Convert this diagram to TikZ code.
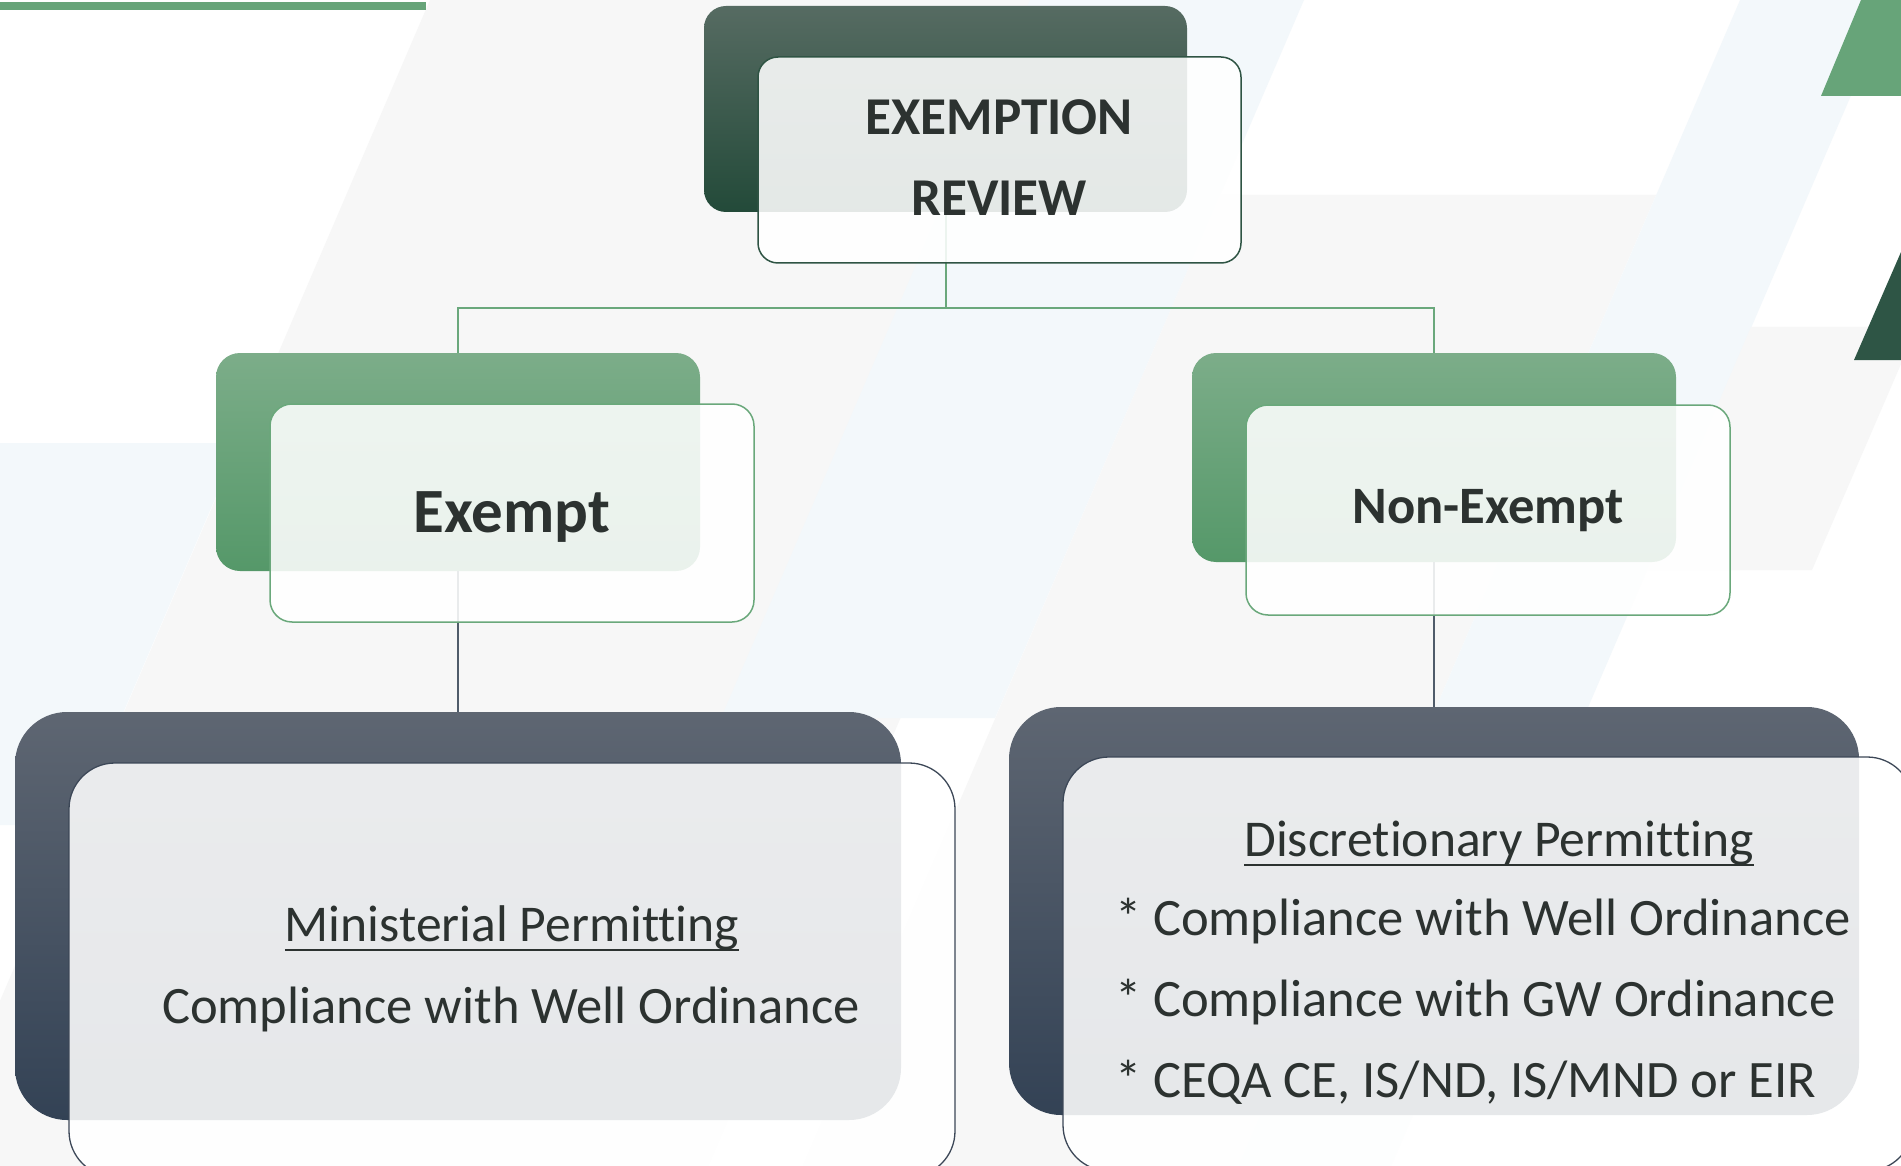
\documentclass[tikz,border=0pt]{standalone}
\usepackage{fontspec}
\setmainfont{Carlito}[Ligatures={NoCommon}]
\definecolor{bggray}{HTML}{F7F7F7}
\definecolor{bgblue}{HTML}{F3F8FB}
\definecolor{accgreen}{HTML}{67A479}
\definecolor{darkgreen}{HTML}{2E5545}
\definecolor{tgtop}{HTML}{566B62}
\definecolor{tgbot}{HTML}{234A39}
\definecolor{ggtop}{HTML}{7CAD89}
\definecolor{ggbot}{HTML}{559869}
\definecolor{sltop}{HTML}{5E6672}
\definecolor{slbot}{HTML}{334255}
\definecolor{tborder}{HTML}{2F5444}
\definecolor{gborder}{HTML}{6AA87B}
\definecolor{sborder}{HTML}{3C4757}
\definecolor{gline}{HTML}{6AA87C}
\definecolor{sline}{HTML}{505C6A}
\definecolor{txt}{HTML}{2C3230}
\begin{document}
\begin{tikzpicture}[x=1pt,y=-1pt,
  box/.style={rectangle, inner sep=0pt, outer sep=0pt, anchor=north west},
  topback/.style={box, minimum width=483pt, minimum height=206pt, rounded corners=22pt, top color=tgtop, bottom color=tgbot},
  topfront/.style={box, minimum width=483pt, minimum height=206pt, rounded corners=20pt, fill=white, fill opacity=0.88, draw=tborder, line width=1.5pt},
  midback/.style={box, minimum width=484pt, rounded corners=24pt, top color=ggtop, bottom color=ggbot},
  midfront/.style={box, minimum width=484pt, rounded corners=22pt, fill=white, fill opacity=0.88, draw=gborder, line width=1.5pt},
  lowback/.style={box, minimum height=408pt, rounded corners=52pt, top color=sltop, bottom color=slbot},
  lowfront/.style={box, minimum height=414pt, rounded corners=46pt, fill=white, fill opacity=0.88, draw=sborder, line width=1.3pt},
  gconn/.style={draw=gline, line width=2pt},
  sconn/.style={draw=sline, line width=1.6pt},
  lbl/.style={inner sep=0pt, outer sep=0pt, text=txt},
  ttl/.style={lbl, anchor=base, font=\fontsize{53.2}{60}\selectfont\bfseries},
  exl/.style={lbl, anchor=base, font=\fontsize{63}{70}\selectfont\bfseries},
  nexl/.style={lbl, anchor=base, font=\fontsize{52.6}{60}\selectfont\bfseries},
  body/.style={lbl, font=\fontsize{52.6}{60}\selectfont},
  head/.style={lbl, anchor=base, font=\fontsize{51.6}{60}\selectfont},
  uline/.style={draw=txt, line width=2.2pt}
]
\useasboundingbox (0,0) rectangle (1901,1166);
% background
\begin{scope}
\clip (0,0) rectangle (1901,1166);
\fill[white] (0,0) rectangle (1901,1166);
\fill[bggray] (430,0) -- (1209,0) -- (708,1166) -- (-71,1166) -- cycle;
\fill[bgblue] (0,443) -- (239,443) -- (75,825) -- (0,825) -- cycle;
\fill[bgblue] (1030,0) -- (1304,0) -- (995,718) -- (721,718) -- cycle;
\fill[bggray] (1220,195) -- (1656,195) -- (1239,1166) -- (803,1166) -- cycle;
\fill[bgblue] (1740,0) -- (1892,0) -- (1391,1166) -- (1239,1166) -- cycle;
\fill[bggray] (1751,327) -- (1901,327) -- (1901,364) -- (1812,570) -- (1647,570) -- cycle;
\fill[accgreen] (0,2) rectangle (426,10);
\fill[accgreen] (1861,0) -- (1901,0) -- (1901,96) -- (1821,96) -- cycle;
\fill[darkgreen] (1901,252) -- (1854,360) -- (1901,360) -- cycle;
\end{scope}
% back boxes
\node[topback] (tback) at (704,6) {};
\node[midback, minimum height=218pt] (eback) at (216,353) {};
\node[midback, minimum height=209pt] (nback) at (1192,353) {};
\node[lowback, minimum width=886pt] (mback) at (15,712) {};
\node[lowback, minimum width=850pt] (dback) at (1009,707) {};
% connectors
\coordinate (bar) at (0,308);
\draw[gconn] (tback.south) -- (tback.south |- bar) -| (eback.north);
\draw[gconn] (tback.south |- bar) -| (nback.north);
\draw[sconn] (eback.south) -- (mback.north);
\draw[sconn] (nback.south) -- (dback.north);
% front boxes
\node[topfront] (tfront) at (758,57) {};
\node[midfront, minimum height=218pt] (efront) at (270,404) {};
\node[midfront, minimum height=210pt] (nfront) at (1246,405) {};
\node[lowfront, minimum width=886pt] (mfront) at (69,763) {};
\node[lowfront, minimum width=850pt] (dfront) at (1063,757) {};
% labels
\node[ttl] (t1) at (999,135) {EXEMPTION};
\node[ttl] (t2) at (999,216) {REVIEW};
\node[exl] (exlab) at (512,532) {Exempt};
\node[nexl] (nexlab) at (1488,523) {Non-Exempt};
\node[head] (mh) at (512,941) {Ministerial Permitting};
\node[body, anchor=base] (mb) at (511,1023) {Compliance with Well Ordinance};
\node[head] (dh) at (1499,856) {Discretionary Permitting};
\node[body, anchor=base west] (d1) at (1115,935) {* Compliance with Well Ordinance};
\node[body, anchor=base west] (d2) at (1115,1016) {* Compliance with GW Ordinance};
\node[body, anchor=base west] (d3) at (1115,1097) {* CEQA CE, IS/ND, IS/MND or EIR};
\draw[uline] ([yshift=-9pt]mh.base west) -- ([yshift=-9pt]mh.base east);
\draw[uline] ([yshift=-9pt]dh.base west) -- ([yshift=-9pt]dh.base east);
\end{tikzpicture}
\end{document}
